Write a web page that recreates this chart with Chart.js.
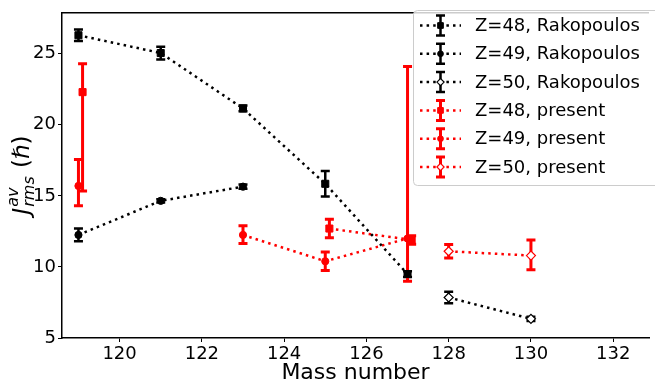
<!DOCTYPE html>
<html>
<head>
<meta charset="utf-8">
<script src="https://cdn.jsdelivr.net/npm/chart.js@4.4.1/dist/chart.umd.min.js"></script>
<style>
  html, body { margin: 0; padding: 0; background: #fff; }
  #wrap { width: 655px; height: 389px; }
</style>
</head>
<body>
<div id="wrap"><canvas id="chart"></canvas></div>
<script>
// Rakopoulos values (symmetric errors)
const massZ48Rak = [119, 121, 123, 125, 127];
const jZ48Rak = [26.3, 25.05, 21.15, 15.85, 9.5];
const errZ48Rak = [0.4, 0.45, 0.2, 0.9, 0.2];

const massZ49Rak = [119, 121, 123];
const jZ49Rak = [12.25, 14.65, 15.65];
const errZ49Rak = [0.45, 0.12, 0.15];

const massZ50Rak = [128, 130];
const jZ50Rak = [7.85, 6.35];
const errZ50Rak = [0.4, 0.15];

// present values (lower / upper errors)
const massZ48Pres = [119.1, 125.1, 127.1];
const jZ48Pres = [22.3, 12.7, 11.9];
const errLoZ48Pres = [6.95, 0.65, 0.3];
const errHiZ48Pres = [2.0, 0.65, 0.3];

const massZ49Pres = [119, 123, 125, 127];
const jZ49Pres = [15.7, 12.25, 10.4, 12.0];
const errLoZ49Pres = [1.4, 0.6, 0.65, 3.0];
const errHiZ49Pres = [1.85, 0.65, 0.65, 12.1];

const massZ50Pres = [128, 130];
const jZ50Pres = [11.1, 10.8];
const errLoZ50Pres = [0.47, 1.0];
const errHiZ50Pres = [0.47, 1.1];

const xTicks = [120, 122, 124, 126, 128, 130, 132];
const yTicks = [5, 10, 15, 20, 25];

const FONT = "'DejaVu Sans', sans-serif";
const RED = '#ff0000';

function points(xs, ys) {
  return xs.map((x, i) => ({ x, y: ys[i] }));
}

function series(label, xs, ys, lo, hi, color, style, loneFirst) {
  const open = style === 'rectRot';
  const ds = {
    label,
    data: points(xs, ys),
    errLo: lo,
    errHi: hi,
    borderColor: color,
    borderWidth: 2.5,
    borderDash: [2.5, 4.1],
    pointStyle: style,
    pointRadius: style === 'rect' ? 5 : (open ? 4.5 : 3.6),
    pointBackgroundColor: open ? '#ffffff' : color,
    pointBorderColor: color,
    pointBorderWidth: open ? 1.2 : 1,
    barWidth: color === RED ? 3 : 2.5
  };
  // the A=119 point of the present data stands alone, no line out of it
  if (loneFirst) {
    ds.segment = {
      borderColor: c => c.p0DataIndex === 0 ? 'rgba(0,0,0,0)' : undefined
    };
  }
  return ds;
}

const datasets = [
  series('Z=48, Rakopoulos', massZ48Rak, jZ48Rak, errZ48Rak, errZ48Rak, '#000000', 'rect', false),
  series('Z=49, Rakopoulos', massZ49Rak, jZ49Rak, errZ49Rak, errZ49Rak, '#000000', 'circle', false),
  series('Z=50, Rakopoulos', massZ50Rak, jZ50Rak, errZ50Rak, errZ50Rak, '#000000', 'rectRot', false),
  series('Z=48, present', massZ48Pres, jZ48Pres, errLoZ48Pres, errHiZ48Pres, RED, 'rect', true),
  series('Z=49, present', massZ49Pres, jZ49Pres, errLoZ49Pres, errHiZ49Pres, RED, 'circle', true),
  series('Z=50, present', massZ50Pres, jZ50Pres, errLoZ50Pres, errHiZ50Pres, RED, 'rectRot', false)
];

function drawBar(ctx, px, top, bot, color, width, cap) {
  ctx.strokeStyle = color;
  ctx.lineWidth = width;
  ctx.beginPath();
  ctx.moveTo(px, top);
  ctx.lineTo(px, bot);
  ctx.moveTo(px - cap, top);
  ctx.lineTo(px + cap, top);
  ctx.moveTo(px - cap, bot);
  ctx.lineTo(px + cap, bot);
  ctx.stroke();
}

const errorBars = {
  id: 'errorBars',
  beforeDatasetsDraw(chart) {
    const { ctx, scales: { x, y } } = chart;
    ctx.save();
    ctx.setLineDash([]);
    chart.data.datasets.forEach(ds => {
      ds.data.forEach((p, i) => {
        const px = x.getPixelForValue(p.x);
        const top = y.getPixelForValue(p.y + ds.errHi[i]);
        const bot = y.getPixelForValue(p.y - ds.errLo[i]);
        drawBar(ctx, px, top, bot, ds.borderColor, ds.barWidth, 4.5);
      });
    });
    ctx.restore();
  }
};

const frame = {
  id: 'frame',
  afterDraw(chart) {
    const { ctx, chartArea: a } = chart;
    ctx.save();

    // top spine
    ctx.strokeStyle = '#000';
    ctx.lineWidth = 1.5;
    ctx.beginPath();
    ctx.moveTo(a.left, a.top);
    ctx.lineTo(a.right, a.top);
    ctx.stroke();

    // legend box
    const bx = 413.5, by = 10.5, bw = 260, bh = 175;
    ctx.fillStyle = 'rgba(255,255,255,0.8)';
    ctx.strokeStyle = '#cccccc';
    ctx.lineWidth = 1;
    ctx.beginPath();
    ctx.roundRect(bx, by, bw, bh, 4);
    ctx.fill();
    ctx.stroke();

    chart.data.datasets.forEach((ds, i) => {
      const cy = 25.5 + i * 28.3;
      ctx.setLineDash(ds.borderDash);
      ctx.strokeStyle = ds.borderColor;
      ctx.lineWidth = ds.borderWidth;
      ctx.beginPath();
      ctx.moveTo(420, cy);
      ctx.lineTo(461, cy);
      ctx.stroke();
      ctx.setLineDash([]);
      drawBar(ctx, 440.5, cy - 10, cy + 10, ds.borderColor, ds.barWidth, 4.5);
      ctx.fillStyle = ds.pointBackgroundColor;
      ctx.strokeStyle = ds.pointBorderColor;
      ctx.lineWidth = ds.pointBorderWidth;
      Chart.helpers.drawPoint(ctx, {
        pointStyle: ds.pointStyle,
        radius: ds.pointRadius * 0.8,
        borderWidth: ds.pointBorderWidth,
        rotation: 0
      }, 440.5, cy);

      ctx.fillStyle = '#000';
      ctx.font = '18px ' + FONT;
      ctx.textBaseline = 'middle';
      ctx.textAlign = 'left';
      ctx.fillText(ds.label, 475, cy + 1);
    });

    // y axis title: J_rms^av (ħ)
    ctx.translate(29, 175);
    ctx.rotate(-Math.PI / 2);
    const big = 'italic 23px ' + FONT;
    const small = 'italic 16px ' + FONT;
    const up = '23px ' + FONT;
    ctx.font = big; const wJ = ctx.measureText('J').width;
    ctx.font = small; const wSub = Math.max(ctx.measureText('rms').width, ctx.measureText('av').width);
    ctx.font = up; const wOpen = ctx.measureText(' (').width;
    ctx.font = big; const wH = ctx.measureText('\u210F').width;
    ctx.font = up; const wClose = ctx.measureText(')').width;
    let tx = -(wJ + wSub + 2 + wOpen + wH + wClose) / 2;
    ctx.fillStyle = '#000';
    ctx.textAlign = 'left';
    ctx.textBaseline = 'alphabetic';
    ctx.font = big; ctx.fillText('J', tx, 0); tx += wJ + 1;
    ctx.font = small;
    ctx.fillText('rms', tx, 5);
    ctx.fillText('av', tx, -11);
    tx += wSub + 1;
    ctx.font = up; ctx.fillText(' (', tx, 0); tx += wOpen;
    ctx.font = big; ctx.fillText('\u210F', tx, 0); tx += wH;
    ctx.font = up; ctx.fillText(')', tx, 0);

    ctx.restore();
  }
};

new Chart(document.getElementById('chart'), {
  type: 'line',
  data: { datasets },
  options: {
    responsive: true,
    maintainAspectRatio: false,
    animation: false,
    layout: { padding: { top: 4, right: 0, left: 0, bottom: 0 } },
    plugins: {
      legend: { display: false },
      tooltip: { enabled: false }
    },
    scales: {
      x: {
        type: 'linear',
        min: 118.6,
        max: 132.87,
        afterBuildTicks: s => { s.ticks = xTicks.map(v => ({ value: v })); },
        afterFit: s => { s.height = 51; },
        grid: { drawOnChartArea: false, color: '#000', tickLength: 4 },
        border: { color: '#000', width: 1.5 },
        ticks: { color: '#000', font: { family: FONT, size: 18 }, padding: 2, maxRotation: 0 },
        title: {
          display: true,
          text: 'Mass number',
          color: '#000',
          font: { family: FONT, size: 22 },
          padding: { top: 0, bottom: 3 }
        }
      },
      y: {
        type: 'linear',
        min: 5,
        max: 27.88,
        afterBuildTicks: s => { s.ticks = yTicks.map(v => ({ value: v })); },
        afterFit: s => { s.width = 62; },
        grid: { drawOnChartArea: false, color: '#000', tickLength: 4 },
        border: { color: '#000', width: 1.5 },
        ticks: { color: '#000', font: { family: FONT, size: 18 }, padding: 2 }
      }
    }
  },
  plugins: [errorBars, frame]
});
</script>
</body>
</html>
